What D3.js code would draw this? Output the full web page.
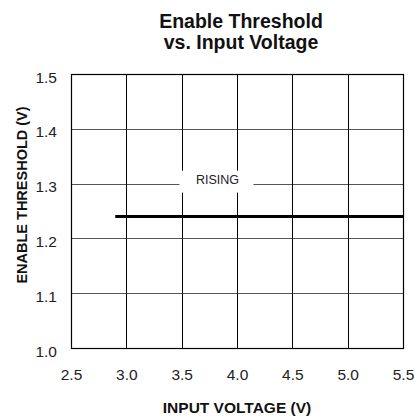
<!DOCTYPE html>
<html><head><meta charset="utf-8">
<script src="https://cdn.jsdelivr.net/npm/d3@7"></script>
<style>body{margin:0;background:#fff}svg{display:block}text{font-family:"Liberation Sans",Arial,sans-serif}</style>
</head><body><svg id="c" width="418" height="419"></svg>
<script>
const titleLines = ["Enable Threshold", "vs. Input Voltage"];
const xTicks = [2.5, 3.0, 3.5, 4.0, 4.5, 5.0, 5.5];
const yTicks = [1.0, 1.1, 1.2, 1.3, 1.4, 1.5];
const risingX = [2.9, 5.5];
const risingY = [1.24, 1.24];
const seriesLabel = "RISING";
const xTitle = "INPUT VOLTAGE (V)";
const yTitle = "ENABLE THRESHOLD (V)";

const svg = d3.select("#c");
const L = 71, R = 403, T = 74, B = 348;
const x = d3.scaleLinear().domain([2.5, 5.5]).range([L, R]);
const y = d3.scaleLinear().domain([1.0, 1.5]).range([B, T]);

// grid
svg.append("g").selectAll("line").data(yTicks.slice(1, -1)).join("line")
  .attr("x1", L).attr("x2", R).attr("y1", d => Math.round(y(d)) + 0.5).attr("y2", d => Math.round(y(d)) + 0.5)
  .attr("stroke", "#555").attr("stroke-width", 1);
svg.append("g").selectAll("line").data(xTicks.slice(1, -1)).join("line")
  .attr("y1", T).attr("y2", B).attr("x1", d => Math.round(x(d)) + 0.5).attr("x2", d => Math.round(x(d)) + 0.5)
  .attr("stroke", "#000").attr("stroke-width", 1);

// label box
const lx = x(3.95), ly = y(1.3);
svg.append("rect").attr("x", lx - 52).attr("y", ly - 13).attr("width", 74).attr("height", 22).attr("fill", "#fff");
svg.append("text").attr("x", lx - 14).attr("y", ly).attr("text-anchor", "middle")
  .attr("font-size", 12.5).attr("fill", "#222").text(seriesLabel);

// border
svg.append("rect").attr("x", L + 0.5).attr("y", T + 0.5).attr("width", R - L).attr("height", B - T)
  .attr("fill", "none").attr("stroke", "#000").attr("stroke-width", 1.2);

// data line
const pts = risingX.map((v, i) => [v, risingY[i]]);
svg.append("path").datum(pts).attr("d", d3.line().x(d => x(d[0])).y(d => y(d[1])))
  .attr("fill", "none").attr("stroke", "#000").attr("stroke-width", 3.2);

// axes labels
const xAxis = d3.axisBottom(x).tickValues(xTicks).tickFormat(d3.format(".1f")).tickSize(0).tickPadding(0);
const gx = svg.append("g").attr("transform", `translate(0,${B})`).call(xAxis);
gx.select(".domain").remove();
gx.selectAll("text").attr("dy", null).attr("y", 32).attr("font-size", 15.5).attr("fill", "#222").attr("font-family", null);

const yAxis = d3.axisLeft(y).tickValues(yTicks).tickFormat(d3.format(".1f")).tickSize(0).tickPadding(0);
const gy = svg.append("g").attr("transform", `translate(57,0)`).call(yAxis);
gy.select(".domain").remove();
gy.selectAll("text").attr("x", 0).attr("dy", null).attr("y", 8).attr("font-size", 15.5).attr("fill", "#222").attr("font-family", null);

// titles
svg.append("g").selectAll("text").data(titleLines).join("text")
  .attr("x", 241).attr("y", (d, i) => 28 + i * 21).attr("text-anchor", "middle")
  .attr("font-size", 19.5).attr("font-weight", "bold").attr("fill", "#111").text(d => d);

svg.append("text").attr("x", 237).attr("y", 413).attr("text-anchor", "middle")
  .attr("font-size", 15.5).attr("font-weight", "bold").attr("fill", "#111").text(xTitle);

svg.append("text").attr("transform", "translate(27,195) rotate(-90)").attr("text-anchor", "middle")
  .attr("font-size", 14.5).attr("font-weight", "bold").attr("fill", "#111").text(yTitle);
</script></body></html>
